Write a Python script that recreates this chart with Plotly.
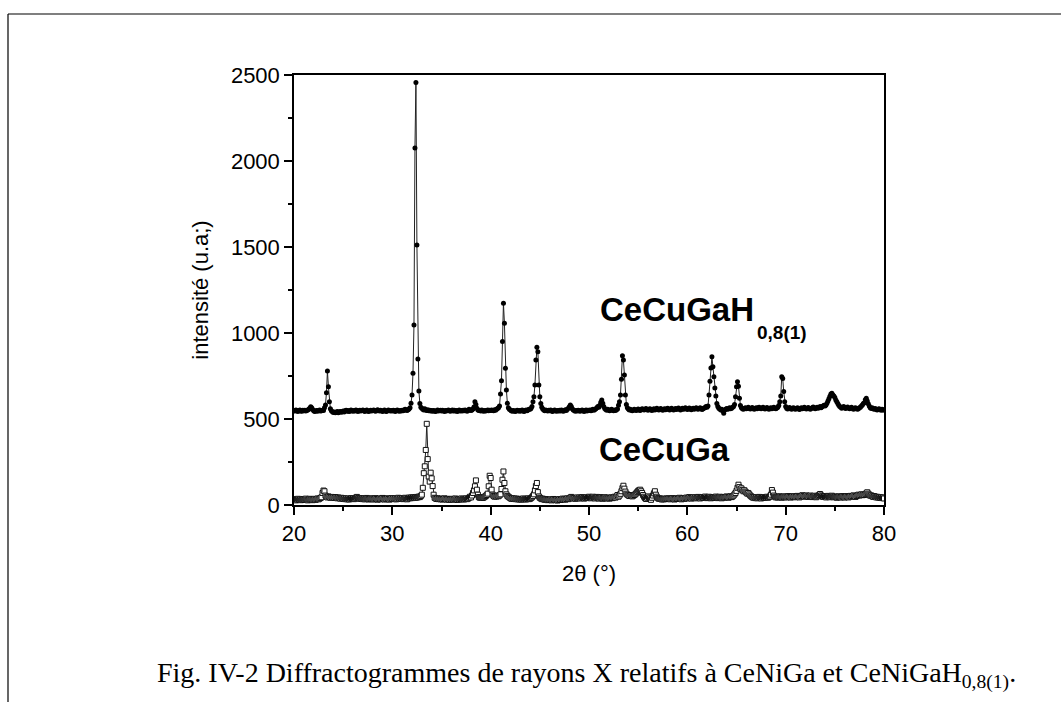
import numpy as np
import plotly.graph_objects as go

# 2-theta scan: 20.0 .. 80.0 deg, 0.1 deg step
theta_start, theta_step, n_points = 20.0, 0.1, 601
two_theta = [round(theta_start + i * theta_step, 1) for i in range(n_points)]

# CeCuGaH0,8(1) intensities (one line per degree)
hydride = [
    550, 546, 552, 548, 544, 549, 553, 547, 545, 551,   # 20
    548, 551, 546, 550, 553, 556, 562, 571, 566, 555,   # 21
    548, 543, 547, 550, 545, 549, 552, 546, 548, 551,   # 22
    549, 565, 581, 653, 779, 688, 600, 560, 548, 542,   # 23
    538, 541, 536, 539, 543, 537, 540, 544, 539, 542,   # 24
    546, 541, 548, 551, 545, 549, 543, 547, 552, 548,   # 25
    545, 550, 547, 553, 549, 544, 548, 551, 546, 549,   # 26
    553, 548, 544, 549, 552, 547, 543, 548, 551, 546,   # 27
    549, 552, 548, 545, 550, 554, 549, 546, 551, 548,   # 28
    544, 548, 552, 547, 543, 548, 553, 549, 546, 550,   # 29
    547, 551, 548, 544, 549, 553, 548, 545, 550, 547,   # 30
    551, 548, 553, 557, 552, 549, 554, 558, 565, 591,   # 31
    640, 766, 1047, 2076, 2457, 1512, 849, 663, 590, 568,  # 32
    562, 557, 553, 560, 552, 549, 554, 548, 551, 547,   # 33
    549, 545, 550, 547, 543, 548, 552, 546, 549, 551,   # 34
    547, 551, 548, 544, 549, 546, 550, 553, 548, 545,   # 35
    549, 552, 547, 551, 546, 549, 544, 548, 552, 547,   # 36
    550, 546, 551, 548, 553, 549, 545, 550, 556, 552,   # 37
    549, 553, 558, 570, 600, 585, 562, 553, 549, 551,   # 38
    547, 552, 548, 545, 550, 546, 549, 553, 548, 551,   # 39
    549, 553, 550, 548, 554, 551, 556, 561, 565, 576,   # 40
    645, 723, 950, 1173, 1056, 795, 669, 591, 565, 556,  # 41
    552, 548, 545, 550, 547, 543, 548, 551, 546, 549,   # 42
    545, 549, 552, 547, 544, 549, 553, 548, 552, 556,   # 43
    556, 561, 572, 600, 630, 698, 843, 917, 891, 698,   # 44
    630, 590, 568, 558, 552, 548, 553, 549, 546, 551,   # 45
    548, 552, 547, 544, 549, 553, 548, 545, 550, 547,   # 46
    551, 547, 552, 548, 545, 550, 554, 549, 556, 562,   # 47
    571, 581, 572, 560, 553, 549, 545, 550, 547, 551,   # 48
    548, 545, 550, 553, 548, 544, 549, 552, 547, 551,   # 49
    549, 553, 548, 552, 556, 551, 555, 560, 566, 572,   # 50
    568, 580, 598, 610, 592, 572, 561, 555, 551, 556,   # 51
    552, 548, 553, 557, 551, 548, 552, 549, 554, 558,   # 52
    580, 600, 640, 731, 868, 843, 756, 640, 585, 565,   # 53
    558, 552, 556, 551, 548, 553, 557, 552, 549, 554,   # 54
    558, 553, 549, 555, 560, 556, 552, 557, 561, 555,   # 55
    551, 556, 560, 554, 550, 555, 559, 553, 557, 562,   # 56
    556, 552, 557, 561, 555, 551, 556, 560, 554, 558,   # 57
    562, 557, 553, 558, 563, 557, 552, 556, 561, 555,   # 58
    559, 564, 558, 553, 557, 562, 556, 560, 565, 559,   # 59
    555, 560, 564, 558, 554, 559, 563, 557, 561, 566,   # 60
    560, 556, 561, 565, 559, 555, 560, 564, 566, 572,   # 61
    568, 575, 640, 720, 797, 862, 804, 746, 680, 634,   # 62
    590, 572, 563, 558, 553, 557, 548, 533, 552, 556,   # 63
    561, 556, 560, 565, 559, 563, 568, 572, 585, 630,   # 64
    688, 717, 690, 620, 578, 566, 560, 556, 561, 565,   # 65
    559, 563, 568, 562, 558, 563, 567, 561, 556, 561,   # 66
    566, 560, 565, 569, 563, 559, 564, 568, 562, 558,   # 67
    563, 567, 561, 557, 562, 566, 560, 564, 569, 563,   # 68
    559, 564, 568, 578, 600, 634, 746, 735, 660, 600,   # 69
    572, 563, 558, 562, 567, 561, 557, 562, 566, 560,   # 70
    556, 561, 566, 560, 555, 560, 565, 559, 563, 568,   # 71
    562, 558, 563, 567, 561, 556, 561, 565, 570, 564,   # 72
    559, 564, 568, 562, 567, 572, 566, 571, 576, 580,   # 73
    575, 582, 592, 604, 618, 632, 645, 649, 640, 634,   # 74
    625, 610, 601, 590, 580, 573, 568, 563, 567, 572,   # 75
    566, 561, 565, 570, 564, 559, 563, 568, 562, 557,   # 76
    562, 566, 561, 556, 560, 565, 569, 575, 582, 590,   # 77
    595, 612, 620, 605, 588, 575, 566, 561, 565, 559,   # 78
    556, 561, 557, 552, 556, 560, 555, 551, 556, 553,   # 79
    552,                                                # 80
]

# CeCuGa intensities (one line per degree)
parent = [
    30, 34, 27, 32, 36, 29, 33, 28, 31, 35,     # 20
    29, 33, 37, 31, 27, 32, 36, 30, 34, 28,     # 21
    32, 36, 30, 34, 38, 33, 37, 41, 45, 70,     # 22
    84, 80, 55, 48, 44, 50, 46, 42, 47, 43,     # 23
    45, 41, 46, 43, 39, 44, 40, 37, 42, 38,     # 24
    35, 39, 34, 38, 33, 37, 32, 36, 40, 35,     # 25
    38, 34, 39, 43, 47, 41, 36, 40, 35, 39,     # 26
    34, 38, 33, 37, 41, 36, 32, 35, 39, 34,     # 27
    37, 32, 36, 40, 35, 31, 34, 38, 33, 37,     # 28
    41, 36, 32, 37, 34, 39, 35, 31, 36, 40,     # 29
    35, 39, 34, 38, 33, 37, 42, 36, 40, 35,     # 30
    39, 34, 38, 42, 37, 33, 38, 43, 39, 44,     # 31
    40, 45, 41, 46, 42, 47, 44, 49, 46, 52,     # 32
    60, 100, 185, 225, 320, 472, 267, 165, 136, 188,  # 33
    155, 110, 60, 42, 38, 35, 39, 34, 37, 33,   # 34
    36, 32, 35, 39, 34, 31, 36, 33, 30, 35,     # 35
    32, 36, 31, 34, 38, 33, 29, 34, 31, 35,     # 36
    38, 33, 36, 32, 35, 39, 34, 37, 42, 48,     # 37
    44, 55, 70, 85, 109, 143, 89, 60, 46, 42,   # 38
    42, 45, 41, 44, 48, 52, 58, 66, 109, 170,   # 39
    157, 89, 60, 52, 48, 53, 49, 55, 51, 56,    # 40
    62, 93, 147, 195, 128, 80, 62, 53, 48, 44,  # 41
    40, 36, 39, 35, 38, 34, 37, 33, 36, 32,     # 42
    35, 31, 34, 38, 33, 36, 32, 35, 39, 34,     # 43
    36, 40, 45, 52, 62, 85, 110, 128, 75, 50,   # 44
    42, 38, 34, 37, 33, 30, 34, 31, 28, 32,     # 45
    29, 33, 27, 31, 35, 30, 28, 32, 26, 30,     # 46
    34, 29, 33, 37, 32, 36, 31, 35, 39, 34,     # 47
    38, 43, 47, 42, 38, 41, 36, 40, 44, 39,     # 48
    43, 38, 42, 46, 41, 37, 41, 45, 40, 44,     # 49
    48, 43, 39, 44, 48, 42, 38, 43, 47, 41,     # 50
    37, 42, 46, 40, 36, 41, 45, 39, 43, 38,     # 51
    42, 37, 41, 45, 40, 44, 48, 43, 50, 58,     # 52
    48, 55, 65, 80, 98, 112, 95, 78, 66, 60,    # 53
    56, 52, 58, 55, 50, 54, 58, 62, 68, 75,     # 54
    82, 86, 89, 80, 70, 58, 48, 40, 35, 42,     # 55
    50, 44, 38, 30, 42, 55, 68, 80, 60, 48,     # 56
    40, 36, 39, 35, 32, 36, 33, 37, 34, 38,     # 57
    35, 39, 36, 33, 37, 40, 36, 32, 36, 39,     # 58
    35, 38, 42, 37, 33, 38, 41, 36, 40, 43,     # 59
    38, 42, 46, 41, 37, 42, 45, 40, 44, 39,     # 60
    43, 47, 42, 38, 43, 46, 41, 45, 49, 44,     # 61
    40, 44, 48, 43, 39, 42, 46, 41, 45, 49,     # 62
    44, 40, 45, 48, 43, 39, 44, 47, 42, 46,     # 63
    50, 46, 42, 47, 51, 46, 50, 55, 62, 70,     # 64
    82, 100, 118, 104, 92, 97, 88, 80, 86, 78,  # 65
    72, 66, 70, 62, 55, 50, 46, 42, 45, 40,     # 66
    44, 39, 43, 47, 42, 38, 43, 46, 41, 45,     # 67
    44, 48, 42, 46, 50, 60, 87, 72, 55, 48,     # 68
    44, 48, 43, 47, 51, 46, 42, 47, 50, 45,     # 69
    49, 44, 48, 52, 47, 43, 48, 51, 46, 50,     # 70
    45, 49, 53, 48, 44, 49, 52, 57, 52, 48,     # 71
    52, 56, 51, 47, 52, 55, 50, 46, 51, 54,     # 72
    49, 45, 50, 54, 58, 64, 56, 51, 47, 52,     # 73
    48, 44, 49, 53, 48, 45, 50, 54, 49, 45,     # 74
    50, 46, 42, 47, 51, 46, 43, 48, 52, 47,     # 75
    43, 48, 52, 47, 44, 49, 53, 48, 52, 56,     # 76
    51, 47, 52, 56, 60, 55, 58, 62, 57, 61,     # 77
    58, 63, 68, 74, 66, 60, 54, 56, 51, 47,     # 78
    52, 48, 44, 48, 43, 46, 41, 45, 40, 43,     # 79
    38,                                         # 80
]

x_ticks = [20, 30, 40, 50, 60, 70, 80]
y_ticks = [0, 500, 1000, 1500, 2000, 2500]

assert len(hydride) == n_points and len(parent) == n_points

SANS = "Arial, 'Liberation Sans', sans-serif"
SERIF = "'Times New Roman', 'Liberation Serif', serif"

fig = go.Figure()

# CeCuGa: open squares joined by a thin line
fig.add_trace(go.Scatter(
    x=two_theta, y=parent, mode="lines+markers",
    line=dict(color="#222222", width=1),
    marker=dict(symbol="square", size=5, color="white",
                line=dict(width=1, color="#111111")),
    showlegend=False, cliponaxis=True,
))
# CeCuGaH0,8(1): filled dots
fig.add_trace(go.Scatter(
    x=two_theta, y=hydride, mode="lines+markers",
    line=dict(color="#222222", width=1),
    marker=dict(symbol="circle", size=5, color="#000000"),
    showlegend=False, cliponaxis=True,
))

# plot area geometry (pixels)
W, H = 1061, 702
L, R, T, B = 294, 884, 75, 505


def px(x):
    return (x - L) / (R - L)


def py(y):
    return (B - y) / (B - T)


fig.update_layout(
    width=W, height=H,
    margin=dict(l=L, r=W - R, t=T, b=H - B, pad=0),
    paper_bgcolor="white", plot_bgcolor="white",
    font=dict(family=SANS, color="black", size=22),
    xaxis=dict(
        range=[20, 80], tickvals=x_ticks, ticks="outside", ticklen=8,
        tickwidth=1.5, tickcolor="black", showline=True, linewidth=1.5,
        linecolor="black", mirror=True, showgrid=False, zeroline=False,
        tickfont=dict(size=22, family=SANS),
        minor=dict(dtick=5, ticks="outside", ticklen=4, tickwidth=1.5,
                   tickcolor="black", showgrid=False),
        title=dict(text="2θ (°)", font=dict(size=22, family=SANS), standoff=20),
    ),
    yaxis=dict(
        range=[0, 2500], tickvals=y_ticks, ticks="outside", ticklen=8,
        tickwidth=1.5, tickcolor="black", showline=True, linewidth=1.5,
        linecolor="black", mirror=True, showgrid=False, zeroline=False,
        tickfont=dict(size=22, family=SANS),
        minor=dict(dtick=250, ticks="outside", ticklen=4, tickwidth=1.5,
                   tickcolor="black", showgrid=False),
        title=dict(text="intensité (u.a;)", font=dict(size=22, family=SANS),
                   standoff=16),
    ),
)

# frame around the figure (top and left edges)
fig.add_shape(type="line", xref="paper", yref="paper",
              x0=px(8), x1=px(W + 5), y0=py(14), y1=py(14),
              line=dict(color="black", width=1.2))
fig.add_shape(type="line", xref="paper", yref="paper",
              x0=px(8), x1=px(8), y0=py(14), y1=py(H + 5),
              line=dict(color="black", width=1.2))

# sample labels
fig.add_annotation(x=px(598), y=py(309), xref="paper", yref="paper",
                   xanchor="left", yanchor="middle", showarrow=False,
                   text="<b>CeCuGaH</b>", font=dict(size=33, family=SANS))
fig.add_annotation(x=px(755), y=py(332), xref="paper", yref="paper",
                   xanchor="left", yanchor="middle", showarrow=False,
                   text="<b>0,8(1)</b>", font=dict(size=19, family=SANS))
fig.add_annotation(x=px(597), y=py(449), xref="paper", yref="paper",
                   xanchor="left", yanchor="middle", showarrow=False,
                   text="<b>CeCuGa</b>", font=dict(size=33, family=SANS))

# figure caption
fig.add_annotation(x=px(155), y=py(675), xref="paper", yref="paper",
                   xanchor="left", yanchor="middle", showarrow=False,
                   text="Fig. IV-2 Diffractogrammes de rayons X relatifs à "
                        "CeNiGa et CeNiGaH<sub>0,8(1)</sub>.",
                   font=dict(size=28, family=SERIF))

fig.write_html("out.html")
